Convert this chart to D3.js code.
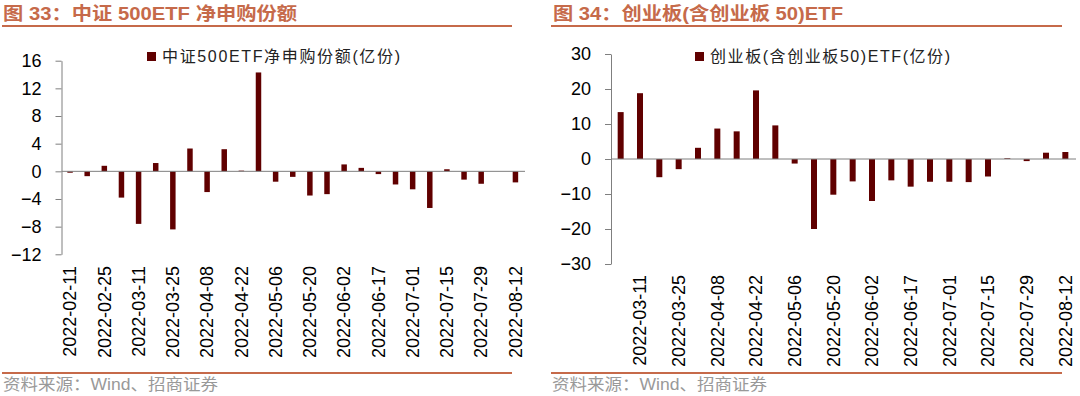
<!DOCTYPE html>
<html>
<head>
<meta charset="utf-8">
<script src="https://cdn.jsdelivr.net/npm/d3@7"></script>
<style>
  body { margin: 0; background: #fff; }
  svg { display: block; font-family: "Liberation Sans", Arial, "Noto Sans CJK SC", sans-serif; }
</style>
</head>
<body>
<svg id="chart" width="1080" height="396"></svg>
<script>
// weekly dates, left chart (中证500ETF)
const dates500 = ["2022-02-11","2022-02-18","2022-02-25","2022-03-04","2022-03-11","2022-03-18","2022-03-25",
  "2022-04-01","2022-04-08","2022-04-15","2022-04-22","2022-04-29","2022-05-06","2022-05-13","2022-05-20",
  "2022-05-27","2022-06-02","2022-06-10","2022-06-17","2022-06-24","2022-07-01","2022-07-08","2022-07-15",
  "2022-07-22","2022-07-29","2022-08-05","2022-08-12"];
const values500 = [-0.2, -0.7, 0.8, -3.8, -7.6, 1.2, -8.4, 3.3, -3.0, 3.2, 0.1, 14.3, -1.5, -0.8, -3.5,
  -3.3, 1.0, 0.5, -0.4, -1.9, -2.6, -5.3, 0.3, -1.2, -1.8, 0.0, -1.6];
const ticks500 = [16, 12, 8, 4, 0, -4, -8, -12];

// right chart (创业板)
const datesCyb = ["2022-03-04","2022-03-11","2022-03-18","2022-03-25","2022-04-01","2022-04-08","2022-04-15",
  "2022-04-22","2022-04-29","2022-05-06","2022-05-13","2022-05-20","2022-05-27","2022-06-02","2022-06-10",
  "2022-06-17","2022-06-24","2022-07-01","2022-07-08","2022-07-15","2022-07-22","2022-07-29","2022-08-05",
  "2022-08-12"];
const valuesCyb = [13.4, 18.8, -5.2, -2.9, 3.2, 8.7, 7.9, 19.6, 9.6, -1.3, -20.0, -10.2, -6.4, -12.0,
  -6.1, -7.9, -6.5, -6.5, -6.6, -5.0, 0.2, -0.6, 1.8, 2.0];
const ticksCyb = [30, 20, 10, 0, -10, -20, -30];

const titles = ["图 33：中证 500ETF 净申购份额", "图 34：创业板(含创业板 50)ETF"];
const legends = ["中证500ETF净申购份额(亿份)", "创业板(含创业板50)ETF(亿份)"];
const source = "资料来源：Wind、招商证券";

const accent = "#c66a4a";
const barColor = "#600000";
const axisColor = "#7f7f7f";

const svg = d3.select("#chart");

function drawPanel(opt) {
  const g = svg.append("g");

  // header
  g.append("text")
    .attr("x", opt.titleX).attr("y", 20)
    .attr("font-size", 18).attr("font-weight", "bold")
    .attr("fill", accent)
    .attr("textLength", opt.titleW).attr("lengthAdjust", "spacingAndGlyphs")
    .text(opt.title);
  g.append("line")
    .attr("x1", opt.lineX1).attr("x2", opt.lineX2)
    .attr("y1", 26).attr("y2", 26)
    .attr("stroke", accent).attr("stroke-width", 2);

  // footer
  g.append("line")
    .attr("x1", opt.lineX1).attr("x2", opt.lineX2)
    .attr("y1", 373).attr("y2", 373)
    .attr("stroke", accent).attr("stroke-width", 2);
  g.append("text")
    .attr("x", opt.lineX1 + 1).attr("y", 390)
    .attr("font-size", 16).attr("fill", "#999")
    .attr("textLength", 215).attr("lengthAdjust", "spacingAndGlyphs")
    .text(source);

  const x = d3.scaleBand()
    .domain(opt.dates)
    .range([opt.x0, opt.x1])
    .paddingInner(opt.pad).paddingOuter(opt.pad / 2);
  const y = d3.scaleLinear()
    .domain([opt.ticks[opt.ticks.length - 1], opt.ticks[0]])
    .range([opt.yBottom, opt.yTop]);

  // bars
  g.append("g").selectAll("rect")
    .data(opt.values)
    .join("rect")
    .attr("x", (d, i) => x(opt.dates[i]))
    .attr("width", x.bandwidth())
    .attr("y", d => y(Math.max(0, d)))
    .attr("height", d => Math.abs(y(d) - y(0)))
    .attr("fill", barColor);

  // zero line
  g.append("line")
    .attr("x1", opt.x0).attr("x2", opt.x1 + 1)
    .attr("y1", y(0)).attr("y2", y(0))
    .attr("stroke", axisColor).attr("stroke-width", 1);

  // y axis
  const yAxis = g.append("g")
    .attr("transform", `translate(${opt.x0},0)`)
    .call(d3.axisLeft(y).tickValues(opt.ticks).tickSize(6).tickPadding(14).tickSizeOuter(0));
  yAxis.select(".domain").attr("stroke", axisColor);
  yAxis.selectAll(".tick line").attr("stroke", axisColor);
  yAxis.selectAll(".tick text")
    .attr("font-size", 18).attr("fill", "#000")
    .attr("font-family", "'Liberation Sans', Arial, sans-serif");

  // x labels, every other category
  g.append("g").selectAll("text")
    .data(opt.dates.filter((d, i) => i % 2 === opt.labelParity))
    .join("text")
    .attr("transform", d => `translate(${x(d) + x.bandwidth() / 2},${opt.labelTop}) rotate(-90)`)
    .attr("text-anchor", "end")
    .attr("dy", "0.35em")
    .attr("font-size", 18)
    .attr("fill", "#000")
    .text(d => d);

  // legend
  g.append("rect")
    .attr("x", opt.legX).attr("y", 52)
    .attr("width", 9).attr("height", 9)
    .attr("fill", barColor);
  g.append("text")
    .attr("x", opt.legX + 15).attr("y", 62)
    .attr("font-size", 16).attr("fill", "#222")
    .attr("textLength", opt.legW).attr("lengthAdjust", "spacing")
    .text(opt.legend);
}

drawPanel({
  title: titles[0], titleX: 3, titleW: 294, lineX1: 2, lineX2: 512,
  dates: dates500, values: values500, ticks: ticks500,
  x0: 61.5, x1: 524, pad: 0.68, yTop: 60.7, yBottom: 254.3,
  labelParity: 0, labelTop: 266,
  legend: legends[0], legX: 147, legW: 238
});

drawPanel({
  title: titles[1], titleX: 553, titleW: 290, lineX1: 551, lineX2: 1062,
  dates: datesCyb, values: valuesCyb, ticks: ticksCyb,
  x0: 611, x1: 1075, pad: 0.69, yTop: 54, yBottom: 264,
  labelParity: 1, labelTop: 275,
  legend: legends[1], legX: 695, legW: 240
});
</script>
</body>
</html>
